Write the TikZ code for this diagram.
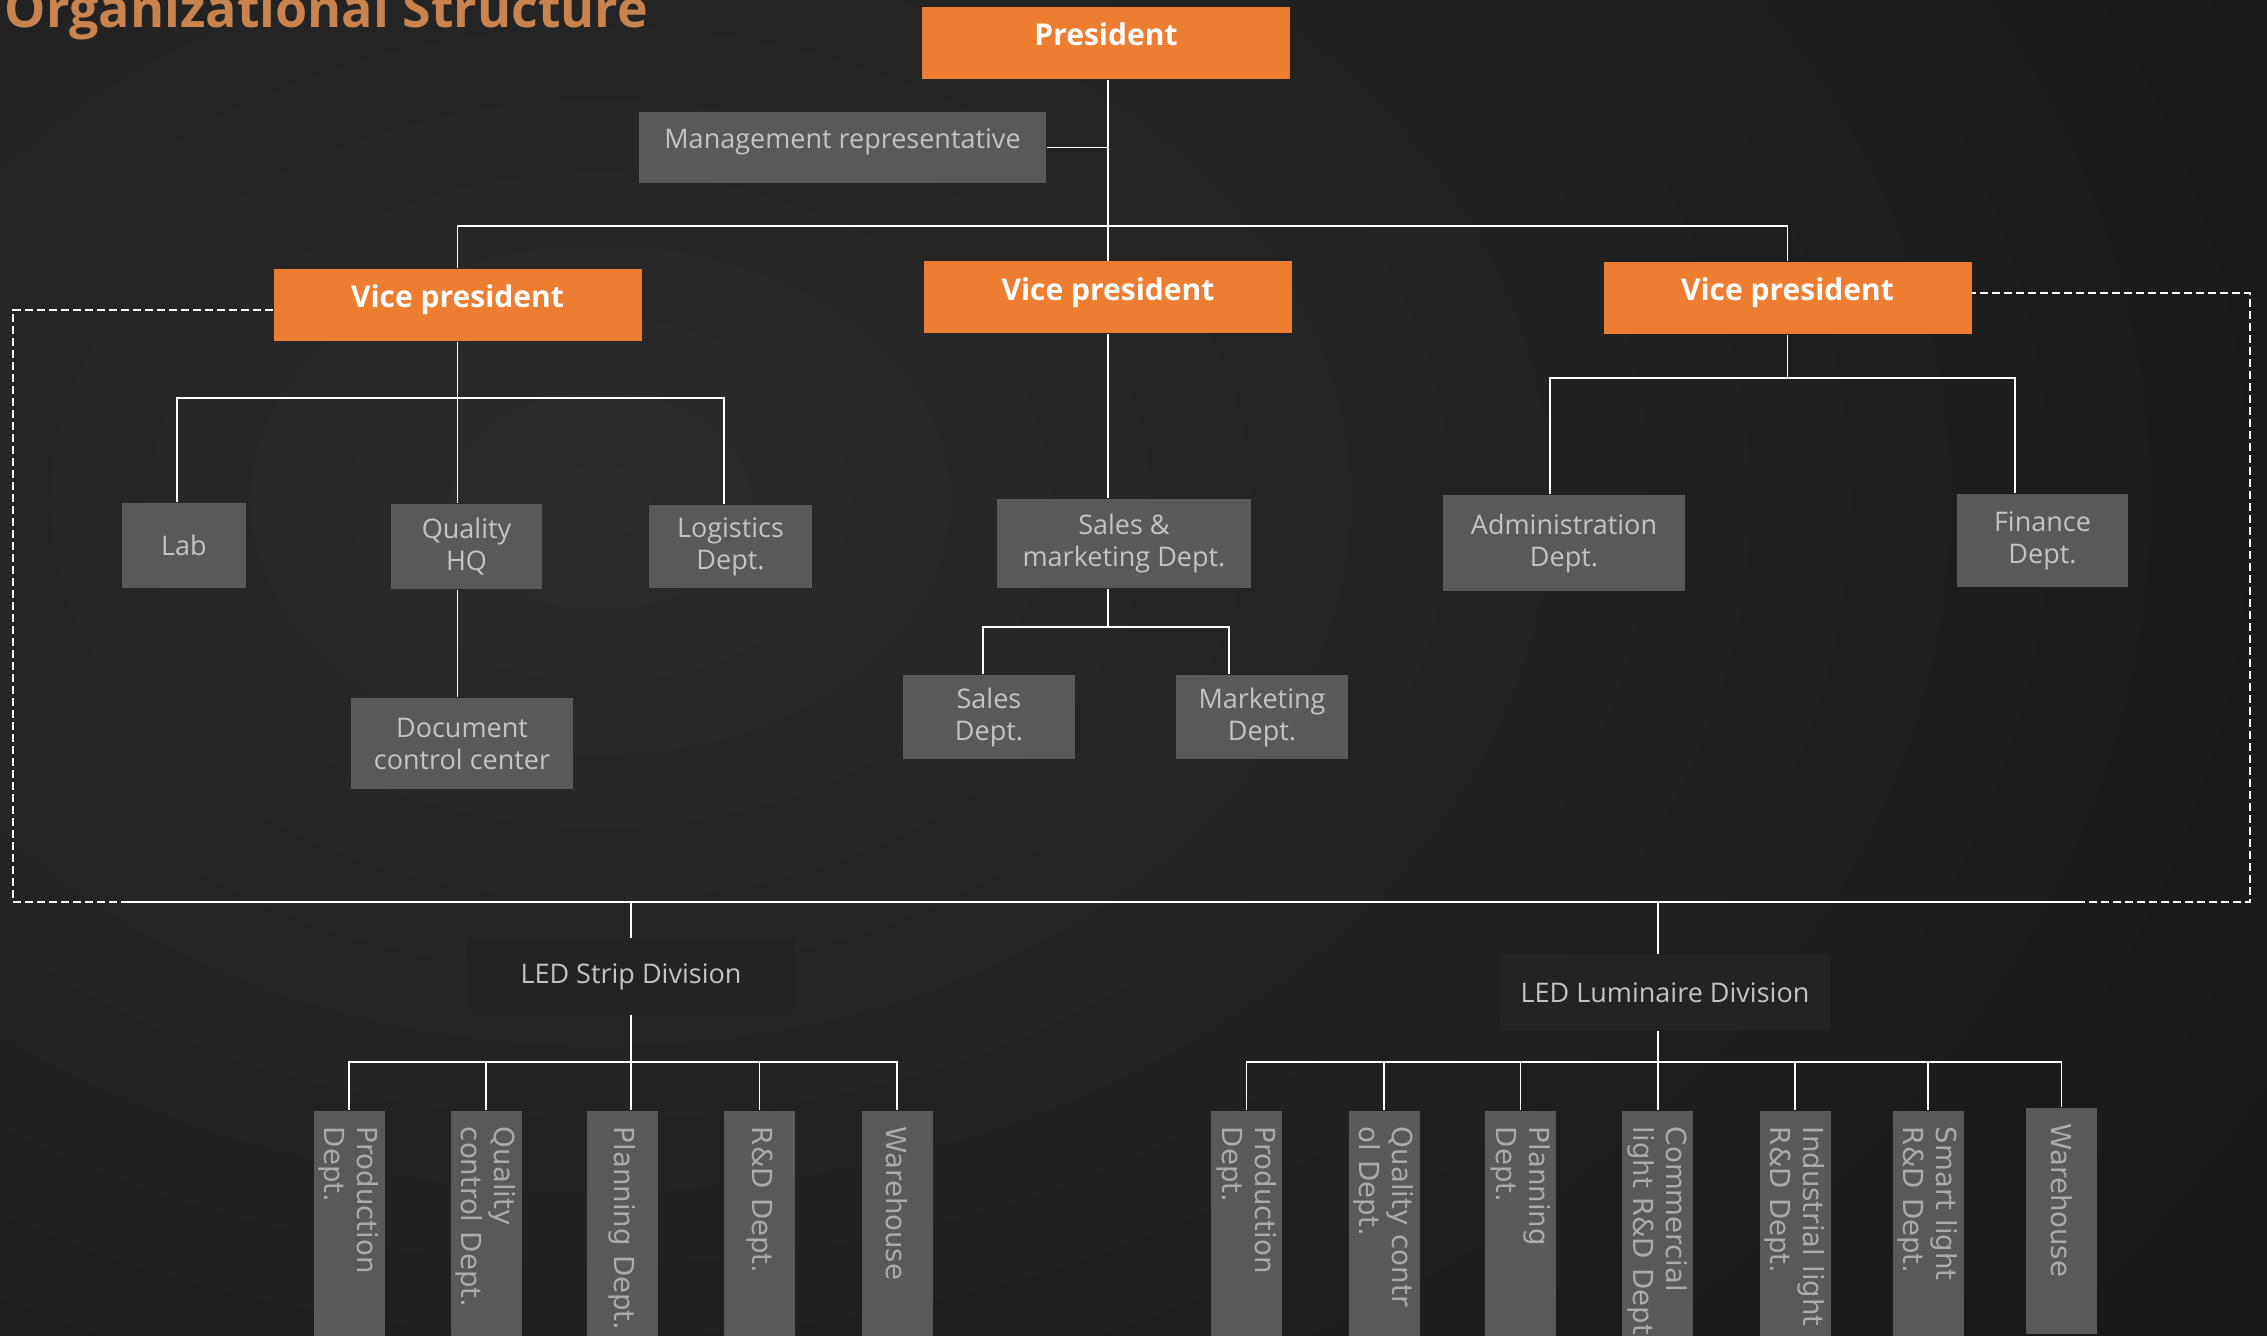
\documentclass[tikz,border=0pt]{standalone}
\usepackage{fontspec}
\setmainfont{Open Sans}
\newfontfamily\deptfont{DejaVu Sans}
\usepackage{tikz}
\definecolor{chieforange}{HTML}{ED7D31}
\definecolor{unitgray}{HTML}{595959}
\definecolor{unittext}{HTML}{C4C4C4}
\definecolor{depttext}{HTML}{ABABAB}
\definecolor{divfill}{HTML}{232323}
\definecolor{titlecolor}{HTML}{C8834E}
\definecolor{bgdark}{HTML}{151515}
\definecolor{bglight}{HTML}{2B2B2C}

\begin{document}
\begin{tikzpicture}[x = 0.5pt, y = -0.5pt, line width = 0.9pt,
    chief/.style = {rectangle, fill = chieforange, text = white, inner sep = 0pt,
                    font = \bfseries\fontsize{15}{18}\selectfont,
                    minimum width = 184pt, minimum height = 36pt,
                    text height = 11pt, text depth = 8.3pt},
    unit/.style = {rectangle, fill = unitgray, text = unittext, inner sep = 0pt, align = center,
                   font = \fontsize{13.5}{16}\selectfont},
    raised/.style = {text height = 10pt, text depth = 9.4pt},
    division/.style = {rectangle, fill = divfill, text = unittext, inner sep = 0pt,
                       font = \fontsize{13.5}{16}\selectfont,
                       minimum width = 164pt, minimum height = 37.5pt},
    dept/.style = {rectangle, rotate = -90, anchor = west, fill = unitgray, text = depttext,
                   font = \deptfont\fontsize{13.8}{16.5}\selectfont, align = left,
                   inner xsep = 8pt, inner ysep = 0pt, minimum height = 35.5pt,
                   text width = 125pt},
    link/.style = {draw = white},
    frame/.style = {draw = white, line width = 0.8pt, dash pattern = on 4pt off 2pt}]
    \useasboundingbox (0, 0) rectangle (2267, 1336);
    \fill [bgdark] (0, 0) rectangle (2267, 1336);
    \shade [inner color = bglight, outer color = bgdark] (-1600, -1100) rectangle (2800, 2100);
    \node [anchor = base west, inner sep = 0pt, text = titlecolor,
           font = \bfseries\fontsize{26}{30}\selectfont] (title) at (4, 28) {Organizational Structure};

    \node [chief] (president) at (1106, 43) {President};
    \node [unit, raised, minimum width = 203.5pt, minimum height = 35.5pt] (mgmt) at (842.5, 147.5) {Management representative};
    \node [chief] (vpL) at (457.5, 305) {Vice president};
    \node [chief] (vpM) at (1108, 297.5) {Vice president};
    \node [chief] (vpR) at (1787.5, 298) {Vice president};

    \node [unit, minimum width = 62pt, minimum height = 42.5pt] (lab) at (184, 545.5) {Lab};
    \node [unit, minimum width = 75.5pt, minimum height = 42.5pt] (qhq) at (466.5, 546.5) {Quality\\HQ};
    \node [unit, minimum width = 81.5pt, minimum height = 41.5pt] (logistics) at (730.5, 546.5) {Logistics\\Dept.};
    \node [unit, minimum width = 111pt, minimum height = 45.5pt] (doc) at (462, 743.5) {Document\\control center};
    \node [unit, minimum width = 127pt, minimum height = 44.5pt] (salesmkt) at (1124, 543.5) {Sales \&\\marketing Dept.};
    \node [unit, minimum width = 86pt, minimum height = 42pt] (sales) at (989, 717) {Sales\\Dept.};
    \node [unit, minimum width = 86pt, minimum height = 42pt] (mkt) at (1262, 717) {Marketing\\Dept.};
    \node [unit, minimum width = 121pt, minimum height = 48pt] (admin) at (1564, 543) {Administration\\Dept.};
    \node [unit, minimum width = 85.5pt, minimum height = 46.5pt] (finance) at (2042.5, 540.5) {Finance\\Dept.};

    \node [division] (strip) at (631, 976.5) {LED Strip Division};
    \node [division, minimum width = 165pt] (lum) at (1665, 992.5) {LED Luminaire Division};

    \node [dept] (sp1) at (349, 1110) {Production\\Dept.};
    \node [dept] (sp2) at (486, 1110) {Quality\\control Dept.};
    \node [dept] (sp3) at (622.5, 1110) {Planning Dept.};
    \node [dept] (sp4) at (759.5, 1110) {R\&D Dept.};
    \node [dept] (sp5) at (897, 1110) {Warehouse};
    \node [dept] (lp1) at (1246.5, 1110) {Production\\Dept.};
    \node [dept] (lp2) at (1384, 1110) {Quality contr\\ol Dept.};
    \node [dept] (lp3) at (1520.5, 1110) {Planning\\Dept.};
    \node [dept] (lp4) at (1657.5, 1110) {Commercial\\light R\&D Dept.};
    \node [dept] (lp5) at (1795, 1110) {Industrial light\\R\&D Dept.};
    \node [dept] (lp6) at (1928, 1110) {Smart light\\R\&D Dept.};
    \node [dept, text width = 97pt] (lp7) at (2061.5, 1107) {Warehouse};

    \draw [link] (vpM.north |- president.south) -- (vpM.north);
    \draw [link] (mgmt.east) -- (mgmt.east -| vpM.north);
    \coordinate (topbar) at (1108, 226);
    \draw [link] (vpL.north) |- (topbar) -| (vpR.north);

    \coordinate (barL) at (457.5, 398);
    \draw [link] (vpL.south) -- (vpL.south |- qhq.north);
    \draw [link] ([xshift = -3.5pt]lab.north) |- (barL) -| ([xshift = -3.25pt]logistics.north);
    \draw [link] (vpL.south |- qhq.south) -- (vpL.south |- doc.north);

    \coordinate (barM) at (1108, 627);
    \draw [link] (vpM.south) -- (vpM.south |- salesmkt.north);
    \draw [link] (vpM.south |- salesmkt.south) -- (barM);
    \draw [link] ([xshift = -3pt]sales.north) |- (barM) -| ([xshift = -16.5pt]mkt.north);

    \coordinate (barR) at (1787.5, 378);
    \draw [link] (vpR.south) -- (barR);
    \draw [link] ([xshift = -7pt]admin.north) |- (barR) -| ([xshift = -13.75pt]finance.north);

    \coordinate (frameSW) at (13, 902);
    \coordinate (frameNE) at (2250, 293);
    \draw [frame] ([yshift = -2.5pt]vpL.west) -| (frameSW) -| (frameNE) -- ([yshift = 2.5pt]vpR.east);

    \coordinate (busW) at (124, 902);
    \coordinate (busE) at (2080, 902);
    \draw [link] (busW) -- (busE);
    \draw [link] (strip.north) -- (strip.north |- busW);
    \draw [link] ([xshift = -3.5pt]lum.north) -- ([xshift = -3.5pt]lum.north |- busW);

    \coordinate (barS) at (631, 1062);
    \draw [link] (strip.south) -- (strip.south |- sp3.west);
    \draw [link] (sp1.west) |- (barS) -| (sp5.west);
    \foreach \n in {sp2, sp4}
        \draw [link] (\n.west) -- (\n.west |- barS);

    \coordinate (barU) at (1658, 1062);
    \draw [link] ([xshift = -3.5pt]lum.south) -- ([xshift = -3.5pt]lum.south |- lp4.west);
    \draw [link] (lp1.west) |- (barU) -| (lp7.west);
    \foreach \n in {lp2, lp3, lp5, lp6}
        \draw [link] (\n.west) -- (\n.west |- barU);
\end{tikzpicture}
\end{document}
